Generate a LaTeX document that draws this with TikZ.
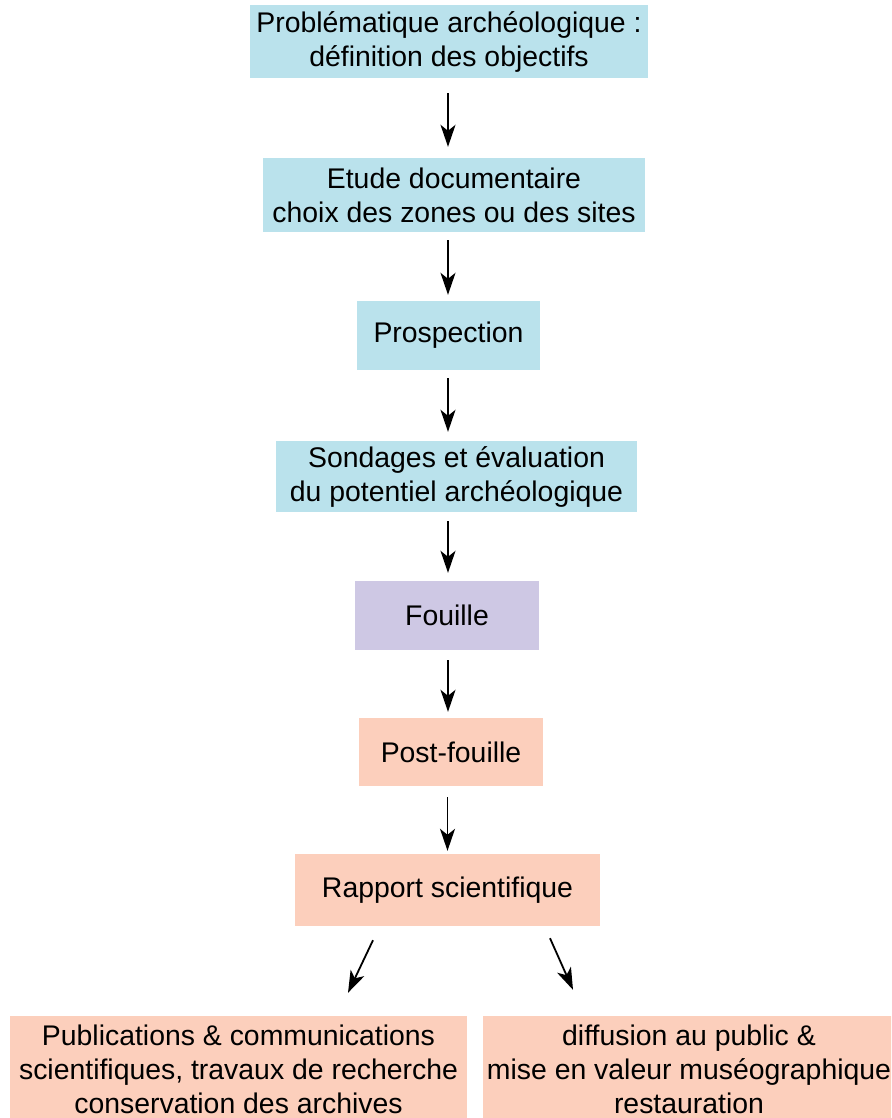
\documentclass[tikz,border=0pt]{standalone}
\usepackage{fontspec}
\setmainfont{Liberation Sans}
\usetikzlibrary{arrows.meta}
\definecolor{cblue}{RGB}{186,226,236}
\definecolor{cpurple}{RGB}{206,200,228}
\definecolor{csalmon}{RGB}{252,207,188}
\begin{document}
\begin{tikzpicture}[x=1pt,y=-1pt,
  box/.style={fill=#1, draw=none, align=center, inner sep=0pt,
    font=\fontsize{28.4}{34}\selectfont},
  arr/.style={-{Stealth[length=22pt,width=15pt,inset=6pt]}, line width=1.8pt}]
\useasboundingbox (0,0) rectangle (891,1118);
\clip (0,0) rectangle (891,1118);
\node[box=cblue, minimum width=398pt, minimum height=73pt] (p1) at (449,41.5) {Problématique archéologique :\\définition des objectifs};
\node[box=cblue, minimum width=382pt, minimum height=74pt] (p2) at (454,195) {Etude documentaire\\choix des zones ou des sites};
\node[box=cblue, minimum width=183pt, minimum height=69pt] (p3) at (448.5,335.5) {Prospection};
\node[box=cblue, minimum width=361pt, minimum height=71pt] (p4) at (456.5,476.5) {Sondages et évaluation\\du potentiel archéologique};
\node[box=cpurple, minimum width=184pt, minimum height=69pt] (p5) at (447,615.5) {Fouille};
\node[box=csalmon, minimum width=184pt, minimum height=68pt] (p6) at (451,752) {Post-fouille};
\node[box=csalmon, minimum width=305pt, minimum height=72pt] (p7) at (447.5,890) {Rapport scientifique};
\node[box=csalmon, minimum width=457pt, minimum height=106pt] (p8) at (238.5,1069) {Publications \& communications\\scientifiques, travaux de recherche\\conservation des archives};
\node[box=csalmon, minimum width=412pt, minimum height=106pt] (p9) at (689,1069) {diffusion au public \&\\mise en valeur muséographique\\restauration};
\draw[arr] ([xshift=-1pt,yshift=-15pt]p1.south) -- ([xshift=-1pt,yshift=11pt]p1.south |- p2.north);
\draw[arr] ([xshift=-6pt,yshift=-8pt]p2.south) -- ([xshift=-6pt,yshift=6pt]p2.south |- p3.north);
\draw[arr] ([xshift=-0.5pt,yshift=-8pt]p3.south) -- ([xshift=-0.5pt,yshift=9pt]p3.south |- p4.north);
\draw[arr] ([xshift=-8.5pt,yshift=-9pt]p4.south) -- ([xshift=-8.5pt,yshift=8pt]p4.south |- p5.north);
\draw[arr] ([xshift=1pt,yshift=-10pt]p5.south) -- ([xshift=1pt,yshift=6pt]p5.south |- p6.north);
\draw[arr] ([xshift=-3.5pt,yshift=-11pt]p6.south) -- ([xshift=-3.5pt,yshift=3pt]p6.south |- p7.north);
\draw[arr] ([xshift=-74.5pt,yshift=-14pt]p7.south) -- ([xshift=109.5pt,yshift=23pt]p8.north);
\draw[arr] ([xshift=102.5pt,yshift=-12pt]p7.south) -- ([xshift=-116pt,yshift=26pt]p9.north);
\end{tikzpicture}
\end{document}
